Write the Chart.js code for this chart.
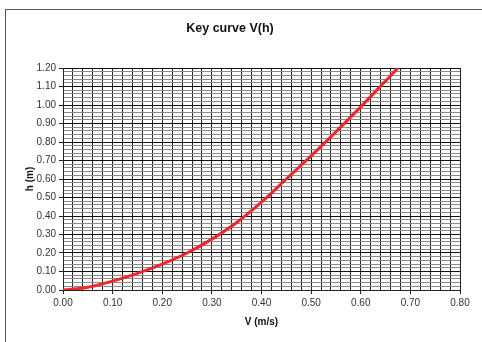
<!DOCTYPE html>
<html>
<head>
<meta charset="utf-8">
<script src="https://cdn.jsdelivr.net/npm/chart.js@4"></script>
<style>
  html, body { margin: 0; padding: 0; background: #fff; }
  #wrap { position: relative; width: 482px; height: 342px; overflow: hidden; }
  #frame { position: absolute; left: 5px; top: 9px; width: 600px; height: 400px; border-top: 1px solid #555; border-left: 1px solid #555; }
  canvas { position: absolute; left: 0; top: 0; }
</style>
</head>
<body>
<div id="wrap">
  <div id="frame"></div>
  <canvas id="c" width="482" height="342"></canvas>
</div>
<script>
// V (m/s) 값과 h (m) 값 - 그림에서 읽은 값
const velocity = [0.00, 0.05, 0.10, 0.15, 0.20, 0.25, 0.30, 0.35, 0.40, 0.45, 0.50, 0.55, 0.60, 0.65, 0.675];
const height = [0.00, 0.015, 0.048, 0.09, 0.14, 0.20, 0.275, 0.365, 0.475, 0.60, 0.725, 0.855, 0.99, 1.13, 1.20];

const chartTitle = "Key curve V(h)";
const xTitle = "V (m/s)";
const yTitle = "h (m)";

const labelFont = { family: "Arial, 'Liberation Sans', sans-serif", size: 10 };
const boldFont = { family: "Arial, 'Liberation Sans', sans-serif", size: 10, weight: "bold" };

// 0.1 단위일 때만 라벨 표시
function majorLabel(value) {
  const n = Math.round(value * 100);
  return n % 10 === 0 ? (n / 100).toFixed(2) : "";
}

function keyCurve_chart() {
  const ctx = document.getElementById("c").getContext("2d");

  const options = {
    responsive: false,
    animation: false,
    layout: {
      padding: { left: 0, right: 22, top: 0, bottom: 0 },
    },
    scales: {
      x: {
        type: "linear",
        min: 0,
        max: 0.8,
        ticks: {
          stepSize: 0.02,
          autoSkip: false,
          maxRotation: 0,
          color: "#333",
          font: labelFont,
          padding: 3,
          callback: majorLabel,
        },
        grid: {
          color: "#222",
          lineWidth: 1,
          tickLength: 4,
          tickColor: (c) => (Math.round(c.tick.value * 100) % 10 === 0 ? "#222" : "transparent"),
        },
        border: { color: "#222", width: 1 },
        title: {
          display: true,
          text: xTitle,
          color: "#111",
          font: boldFont,
          padding: { top: 8, bottom: 14 },
        },
        afterFit(scale) {
          scale.height = 52;
        },
      },
      y: {
        type: "linear",
        min: 0,
        max: 1.2,
        ticks: {
          stepSize: 0.02,
          autoSkip: false,
          color: "#333",
          font: labelFont,
          padding: 3,
          callback: majorLabel,
        },
        grid: {
          color: (c) => (Math.round(c.tick.value * 100) % 10 === 0 ? "#111" : "#8a8a8a"),
          lineWidth: 1,
          tickLength: 4,
          tickColor: (c) => (Math.round(c.tick.value * 100) % 10 === 0 ? "#222" : "transparent"),
        },
        border: { color: "#222", width: 1 },
        title: {
          display: true,
          text: yTitle,
          color: "#111",
          font: boldFont,
          padding: { top: 24, bottom: 0 },
        },
        afterFit(scale) {
          scale.width = 63;
        },
      },
    },
    plugins: {
      legend: { display: false },
      tooltip: { enabled: false },
      title: {
        display: true,
        text: chartTitle,
        color: "#111",
        font: { family: "Arial, 'Liberation Sans', sans-serif", size: 12.5, weight: "bold" },
        padding: { top: 21, bottom: 32 },
      },
    },
  };

  const config = {
    type: "line",
    data: {
      datasets: [
        {
          data: velocity.map((v, i) => ({ x: v, y: height[i] })),
          borderColor: "#f0262b",
          borderWidth: 3,
          pointRadius: 0,
          tension: 0.4,
          cubicInterpolationMode: "monotone",
          fill: false,
        },
      ],
    },
    options: options,
  };

  new Chart(ctx, config);
}
keyCurve_chart();
</script>
</body>
</html>
